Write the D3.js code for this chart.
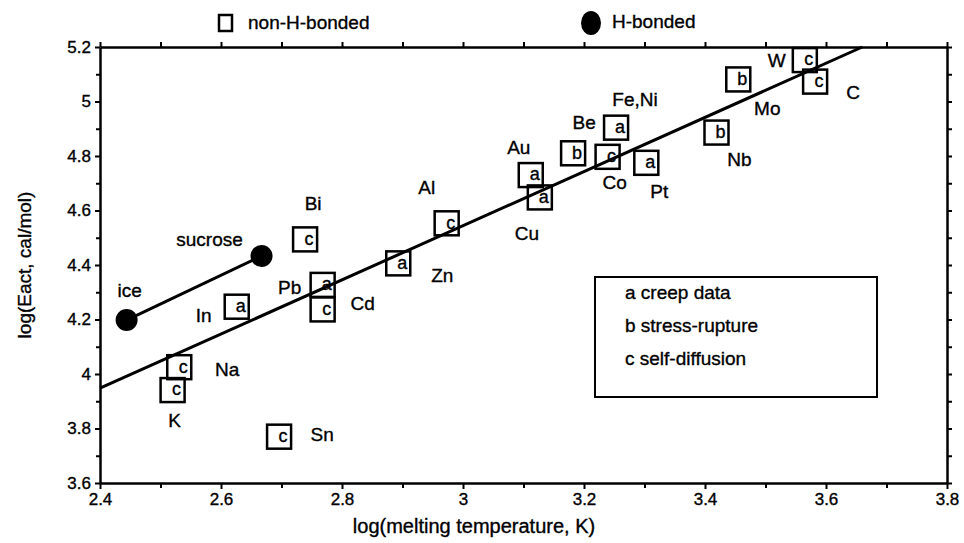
<!DOCTYPE html>
<html>
<head>
<meta charset="utf-8">
<script src="https://cdn.jsdelivr.net/npm/d3@7/dist/d3.min.js"></script>
<style>
  html, body { margin: 0; padding: 0; background: #fff; }
  svg { display: block; }
  text { font-family: "Liberation Sans", Arial, Helvetica, sans-serif; fill: #000; stroke: #000; stroke-width: 0.35px; }
</style>
</head>
<body>
<svg id="chart" width="964" height="543"></svg>
<script>
// Metals (non-H-bonded): log melting temperature vs log activation energy
const metalNames  = ["K", "Na", "In", "Sn", "Bi", "Pb", "Cd", "Zn", "Al", "Au", "Cu", "Be", "Co", "Fe,Ni", "Pt", "Nb", "Mo", "W", "C"];
const metalLogTm  = [2.520, 2.531, 2.626, 2.696, 2.739, 2.768, 2.768, 2.893, 2.973, 3.112, 3.127, 3.182, 3.239, 3.253, 3.303, 3.419, 3.455, 3.565, 3.582];
const metalLogE   = [3.941, 4.025, 4.247, 3.770, 4.494, 4.327, 4.237, 4.406, 4.553, 4.730, 4.648, 4.810, 4.797, 4.904, 4.775, 4.886, 5.081, 5.152, 5.073];
const metalSource = ["c", "c", "a", "c", "c", "a", "c", "a", "c", "a", "a", "b", "c", "a", "a", "b", "b", "c", "c"];

// H-bonded solids
const hbNames = ["ice", "sucrose"];
const hbLogTm = [2.444, 2.667];
const hbLogE  = [4.198, 4.433];

// Fitted line through the metal data
const fitLogTm = [2.400, 3.660];
const fitLogE  = [3.948, 5.200];

// Axis ticks
const xTickLabels = ["2.4", "2.6", "2.8", "3", "3.2", "3.4", "3.6", "3.8"];
const yTickLabels = ["3.6", "3.8", "4", "4.2", "4.4", "4.6", "4.8", "5", "5.2"];
const sourceKey = ["a creep data", "b stress-rupture", "c self-diffusion"];

// Name label offsets (px) relative to each marker
const metalLabelOffset = {
  "K": [2, 30], "Na": [48, 2], "In": [-33, 9], "Sn": [43, -2], "Bi": [8, -36],
  "Pb": [-33, 2], "Cd": [40, -6], "Zn": [44, 12], "Al": [-20, -36], "Au": [-12, -28],
  "Cu": [-13, 36], "Be": [11, -31], "Co": [7, 26], "Fe,Ni": [19, -28], "Pt": [13, 29],
  "Nb": [23, 27], "Mo": [29, 29], "W": [-28, 0], "C": [38, 11]
};
const hbLabelOffset = { "ice": [3, -30], "sucrose": [-52, -17] };

(function draw() {
  const svg = d3.select("#chart");
  const mLeft = 100, mRight = 947, mTop = 47, mBottom = 483;
  const labelSize = "19px", tickSize = "17px";

  const x = d3.scaleLinear().domain([2.4, 3.8]).range([mLeft, mRight]);
  const y = d3.scaleLinear().domain([3.6, 5.2]).range([mBottom, mTop]);

  const xMajor = xTickLabels.map(Number);
  const yMajor = yTickLabels.map(Number);
  const xMinor = d3.range(2.5, 3.8, 0.2).map(v => +v.toFixed(1));
  const yMinor = d3.range(3.7, 5.2, 0.2).map(v => +v.toFixed(1));

  function styleAxis(g) {
    g.selectAll("path.domain").attr("stroke", "#000").attr("stroke-width", 2.5);
    g.selectAll(".tick line").attr("stroke", "#000").attr("stroke-width", 2);
    g.selectAll(".tick text").style("font-size", tickSize)
      .style("font-family", "'Liberation Sans', Arial, sans-serif")
      .attr("fill", "#000").attr("stroke", "#000").attr("stroke-width", 0.35);
  }

  // bottom axis
  const gx = svg.append("g").attr("transform", `translate(0,${mBottom})`)
    .call(d3.axisBottom(x).tickValues(xMajor).tickSize(6).tickPadding(4)
      .tickFormat((d, i) => xTickLabels[i]).tickSizeOuter(0));
  styleAxis(gx);
  svg.append("g").attr("transform", `translate(0,${mBottom})`)
    .call(d3.axisBottom(x).tickValues(xMinor).tickSize(5).tickFormat(""))
    .call(g => { g.select("path.domain").remove(); styleAxis(g); });

  // top axis
  const gxt = svg.append("g").attr("transform", `translate(0,${mTop})`)
    .call(d3.axisTop(x).tickValues(xMajor.concat(xMinor)).tickSize(5).tickFormat("").tickSizeOuter(0));
  styleAxis(gxt);

  // left axis
  const gy = svg.append("g").attr("transform", `translate(${mLeft},0)`)
    .call(d3.axisLeft(y).tickValues(yMajor).tickSize(5).tickPadding(4)
      .tickFormat((d, i) => yTickLabels[i]).tickSizeOuter(0));
  styleAxis(gy);
  svg.append("g").attr("transform", `translate(${mLeft},0)`)
    .call(d3.axisLeft(y).tickValues(yMinor).tickSize(4).tickFormat(""))
    .call(g => { g.select("path.domain").remove(); styleAxis(g); });

  // right axis
  const gyr = svg.append("g").attr("transform", `translate(${mRight},0)`)
    .call(d3.axisRight(y).tickValues(yMajor.concat(yMinor)).tickSize(5).tickFormat("").tickSizeOuter(0));
  styleAxis(gyr);

  // axis titles
  svg.append("text")
    .attr("x", 474).attr("y", 533)
    .attr("text-anchor", "middle").style("font-size", "20px")
    .text("log(melting temperature, K)");
  svg.append("text")
    .attr("transform", `translate(31,${(mTop + mBottom) / 2}) rotate(-90)`)
    .attr("text-anchor", "middle").style("font-size", labelSize)
    .text("log(Eact, cal/mol)");

  // fitted line for metals
  svg.append("line")
    .attr("x1", x(fitLogTm[0])).attr("y1", y(fitLogE[0]))
    .attr("x2", x(fitLogTm[1])).attr("y2", y(fitLogE[1]))
    .attr("stroke", "#000").attr("stroke-width", 3);

  // line joining the H-bonded solids
  svg.append("line")
    .attr("x1", x(hbLogTm[0])).attr("y1", y(hbLogE[0]))
    .attr("x2", x(hbLogTm[1])).attr("y2", y(hbLogE[1]))
    .attr("stroke", "#000").attr("stroke-width", 3);

  // metal markers: open squares with the data-source letter
  const metals = metalNames.map((n, i) => ({ name: n, tm: metalLogTm[i], e: metalLogE[i], src: metalSource[i] }));
  const box = 24;
  const mg = svg.append("g").selectAll("g").data(metals).join("g")
    .attr("transform", d => `translate(${x(d.tm)},${y(d.e)})`);
  mg.append("rect")
    .attr("x", -box / 2).attr("y", -box / 2).attr("width", box).attr("height", box)
    .attr("fill", "none").attr("stroke", "#000").attr("stroke-width", 2.5);
  mg.append("text")
    .attr("x", 4).attr("y", -1).attr("dy", "0.35em")
    .attr("text-anchor", "middle").style("font-size", "18px")
    .text(d => d.src);
  mg.append("text")
    .attr("x", d => metalLabelOffset[d.name][0])
    .attr("y", d => metalLabelOffset[d.name][1])
    .attr("dy", "0.35em").attr("text-anchor", "middle").style("font-size", labelSize)
    .text(d => d.name);

  // H-bonded markers: filled circles
  const hb = hbNames.map((n, i) => ({ name: n, tm: hbLogTm[i], e: hbLogE[i] }));
  const hg = svg.append("g").selectAll("g").data(hb).join("g")
    .attr("transform", d => `translate(${x(d.tm)},${y(d.e)})`);
  hg.append("circle").attr("r", 11).attr("fill", "#000");
  hg.append("text")
    .attr("x", d => hbLabelOffset[d.name][0])
    .attr("y", d => hbLabelOffset[d.name][1])
    .attr("dy", "0.35em").attr("text-anchor", "middle").style("font-size", labelSize)
    .text(d => d.name);

  // symbol legend along the top
  const lg = svg.append("g");
  lg.append("rect").attr("x", 219).attr("y", 15).attr("width", 13).attr("height", 16)
    .attr("fill", "none").attr("stroke", "#000").attr("stroke-width", 2.5);
  lg.append("text").attr("x", 248).attr("y", 22).attr("dy", "0.35em").style("font-size", labelSize).text("non-H-bonded");
  lg.append("ellipse").attr("cx", 591).attr("cy", 23).attr("rx", 10).attr("ry", 12).attr("fill", "#000");
  lg.append("text").attr("x", 612).attr("y", 21).attr("dy", "0.35em").style("font-size", labelSize).text("H-bonded");

  // data-source key box
  const kg = svg.append("g");
  kg.append("rect").attr("x", 595).attr("y", 277).attr("width", 282).attr("height", 120)
    .attr("fill", "#fff").attr("stroke", "#000").attr("stroke-width", 2);
  kg.selectAll("text").data(sourceKey).join("text")
    .attr("x", 625).attr("y", (d, i) => 292 + i * 33).attr("dy", "0.35em")
    .style("font-size", labelSize).text(d => d);
})();
</script>
</body>
</html>
